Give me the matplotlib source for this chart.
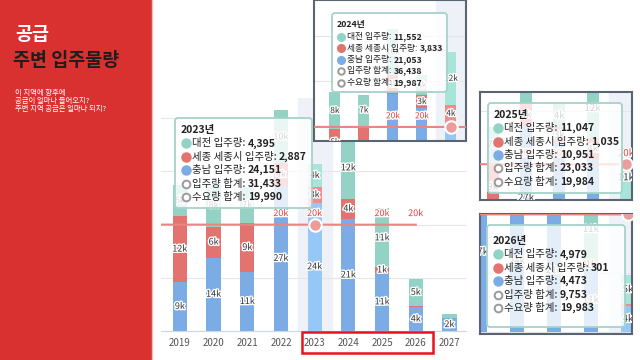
import matplotlib
matplotlib.use('Agg')
import matplotlib.pyplot as plt
import matplotlib.patheffects as pe
from matplotlib.patches import Rectangle, FancyBboxPatch
import numpy as np

plt.rcParams['font.family'] = ['Noto Sans CJK KR', 'DejaVu Sans']

# 데이터
years = ['2019', '2020', '2021', '2022', '2023', '2024', '2025', '2026', '2027']
chungnam = [9200, 13800, 11100, 27300, 24151, 21053, 10951, 4473, 2400]
sejong = [12400, 5800, 9200, 4200, 2887, 3833, 1035, 301, 0]
daejeon = [5800, 8000, 6800, 10000, 4395, 11552, 11047, 4979, 800]
demand = [19998, 19995, 19993, 19992, 19990, 19987, 19984, 19983, np.nan]

names = ['대전 입주량', '세종 세종시 입주량', '충남 입주량', '입주량 합계', '수요량 합계']
title_txt = '공급'
subtitle_txt = '주변 입주물량'
desc_lines = ['이 지역에 향후에', '공급이 얼마나 들어오지?', '주변 지역 공급은 얼마나 되지?']

BLUE, RED, TEAL = '#7cace6', '#e3736f', '#93d3c6'
BLUE_H, RED_H, TEAL_H = '#95c8f7', '#ee8e8a', '#a8e4d9'
LINE = '#e98582'

W, H = 640, 360
fig = plt.figure(figsize=(W / 100, H / 100), dpi=100)


def fbox(x0, y0, x1, y1):
    return [x0 / W, 1 - y1 / H, (x1 - x0) / W, (y1 - y0) / H]


def draw_panel(ax, hover, xlim, ylim, width, fs):
    x = np.arange(len(years))
    ax.set_yticks(np.arange(0, 60001, 10000))
    ax.yaxis.grid(True, color='#e6e6e6', lw=0.8)
    ax.set_axisbelow(True)
    ax.tick_params(length=0, labelleft=False)
    ax.axvspan(hover - 0.5, hover + 0.5, color='#eef2f8', zorder=0)

    stroke = [pe.withStroke(linewidth=2, foreground='white')]
    bottom = np.zeros(len(years))
    centers = [[] for _ in years]
    for vals, c, ch in [(chungnam, BLUE, BLUE_H), (sejong, RED, RED_H), (daejeon, TEAL, TEAL_H)]:
        cols = [ch if i == hover else c for i in x]
        ax.bar(x, vals, width, bottom=bottom, color=cols, zorder=2)
        for i, v in enumerate(vals):
            if v >= 1000:
                cy = bottom[i] + v / 2
                centers[i].append(cy)
                t = ax.text(i, cy, f'{round(v / 1000)}k', ha='center', va='center', fontsize=fs,
                            color='#333333', path_effects=stroke, zorder=4)
                t.set_clip_box(ax.bbox)
                t.set_clip_on(True)
        bottom += np.array(vals)

    # 수요량 선과 라벨 (막대 라벨과 겹치면 숨김)
    d = np.array(demand, dtype=float)
    ok = ~np.isnan(d)
    ax.plot(np.r_[x[ok][0] - 1, x[ok]], np.r_[d[ok][0], d[ok]], color=LINE, lw=1.5, zorder=3)
    for i in x[ok]:
        if all(abs(c - (d[i] + 2100)) > 3000 for c in centers[i]):
            t = ax.annotate(f'{round(d[i] / 1000)}k', (i, d[i]), xytext=(0, 8), textcoords='offset points',
                            ha='center', va='center', fontsize=fs, color='#e8403c',
                            path_effects=stroke, zorder=4, annotation_clip=False)
            t.set_clip_box(ax.bbox)
            t.set_clip_on(True)
    ax.plot(hover, d[hover], 'o', ms=9, mfc='#eb9d9b', mec='white', mew=1.5, zorder=5)
    ax.set_xlim(*xlim)
    ax.set_ylim(*ylim)


# 메인 차트
ax = fig.add_axes(fbox(161, 98, 466, 331))
ax.set_xticks(np.arange(len(years)), years)
draw_panel(ax, 4, (-0.56, 8.49), (0, 43800), 0.42, 6.5)
ax.tick_params(axis='x', length=0, pad=5, labelsize=7, labelcolor='#555555')
for s in ['top', 'left', 'right']:
    ax.spines[s].set_visible(False)
ax.spines['bottom'].set_color('#ccd6eb')

# 확대 화면
insets = [
    (fbox(314, 0, 466, 141), 5, (0.28, 5.52), (16900, 47900), 0.38, 6),
    (fbox(480, 92, 632, 200), 6, (1.62, 6.18), (13200, 33700), 0.36, 7),
    (fbox(480, 214, 632, 334), 7, (3.0, 7.11), (-350, 20050), 0.36, 7),
]
for rect, hv, xl, yl, bw, fs in insets:
    a = fig.add_axes(rect)
    a.set_xticks([])
    draw_panel(a, hv, xl, yl, bw, fs)
    for s in a.spines.values():
        s.set_color('#5b6472')
        s.set_linewidth(1.5)

# 오버레이 (픽셀 좌표)
ov = fig.add_axes([0, 0, 1, 1])
ov.set_xlim(0, W)
ov.set_ylim(H, 0)
ov.axis('off')
ov.patch.set_visible(False)

ov.add_patch(Rectangle((0, 0), 151, H, color='#d93130'))
ov.plot([152, 152], [0, H], color='#f3b9b9', lw=1)
ov.text(15, 35, title_txt, fontsize=13.3, fontweight='bold', color='white', va='center')
ov.text(13, 61, subtitle_txt, fontsize=13.3, fontweight='bold', color='#1e1e1e', va='center')
for k, t in enumerate(desc_lines):
    ov.text(15, 92.5 + k * 8.5, t, fontsize=5.3, color='white', va='center')

ov.add_patch(Rectangle((302, 332), 131, 21, fill=False, ec='#e8141b', lw=1.8))

renderer = fig.canvas.get_renderer()


def tooltip(i, box, tx, ty, step, cx, fs, ms):
    x0, y0, x1, y1 = box
    ov.add_patch(FancyBboxPatch((x0, y0), x1 - x0, y1 - y0, boxstyle='round,pad=0,rounding_size=3',
                                fc=(1, 1, 1, 0.8), ec='#a5d3c9', lw=1.3, zorder=6))
    ov.text(tx, ty, f'{years[i]}년', fontsize=fs, fontweight='bold', color='#222222', va='center', zorder=7)
    total = chungnam[i] + sejong[i] + daejeon[i]
    rows = [(daejeon[i], TEAL), (sejong[i], RED), (chungnam[i], BLUE), (total, None), (int(demand[i]), None)]
    for k, (v, c) in enumerate(rows):
        y = ty + step * (k + 1)
        if c:
            ov.plot(cx, y, 'o', ms=ms, mfc=c, mec=c, zorder=7)
        else:
            ov.plot(cx, y, 'o', ms=ms * 0.85, mfc='white', mec='#9a9a9a', mew=1.4, zorder=7)
        t = ov.text(cx + 6, y, names[k] + ': ', fontsize=fs, color='#222222', va='center', zorder=7)
        bb = t.get_window_extent(renderer=renderer)
        ov.text(bb.x1, y, f'{v:,}', fontsize=fs, fontweight='bold', color='#222222', va='center', zorder=7)


tooltip(4, (175, 118, 312, 208), 181, 130, 13.4, 186, 7.5, 6.5)
tooltip(5, (332, 13, 447, 92), 337, 25, 11.5, 341, 6.3, 5.5)
tooltip(6, (488, 103, 622, 193), 494, 115, 13.3, 498, 7.5, 6.5)
tooltip(7, (487, 225, 625, 327), 493, 241, 13.4, 498, 7.5, 6.5)

fig.savefig('out.png', dpi=100)
